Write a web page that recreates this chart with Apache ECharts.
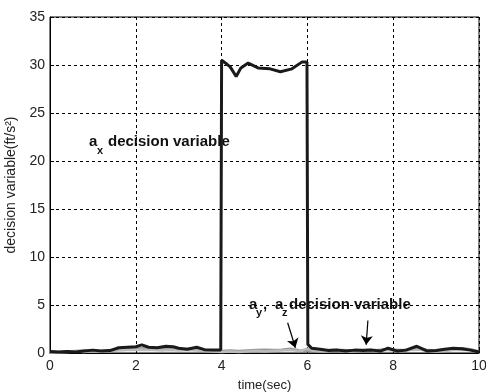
<!DOCTYPE html>
<html><head><meta charset="utf-8">
<script src="https://cdn.jsdelivr.net/npm/echarts@6/dist/echarts.min.js"></script>
<style>html,body{margin:0;padding:0;background:#fff}#c{width:486px;height:392px}</style>
</head><body><div id="c"></div>
<script>
const xTicks = [0, 2, 4, 6, 8, 10];
const yTicks = [0, 5, 10, 15, 20, 25, 30, 35];
const axTime = [0,0.2,0.4,0.6,0.8,1.0,1.2,1.4,1.6,1.8,2.0,2.14,2.3,2.5,2.7,2.87,3.0,3.2,3.42,3.6,3.8,3.98,4.0,4.12,4.2,4.34,4.45,4.62,4.85,5.13,5.37,5.64,5.87,5.99,6.01,6.1,6.3,6.5,6.7,6.9,7.1,7.3,7.5,7.7,7.88,8.1,8.3,8.55,8.8,9.0,9.2,9.4,9.6,9.8,10];
const axVal  = [0.15,0.1,0.15,0.1,0.2,0.3,0.2,0.25,0.55,0.6,0.65,0.85,0.6,0.55,0.7,0.65,0.5,0.4,0.6,0.35,0.3,0.3,30.5,30.1,29.8,28.8,29.7,30.2,29.7,29.6,29.3,29.6,30.3,30.3,0.9,0.5,0.4,0.25,0.3,0.2,0.3,0.25,0.3,0.2,0.5,0.2,0.3,0.7,0.2,0.25,0.4,0.5,0.45,0.3,0.1];
const gTime = [0,0.2,0.4,0.6,0.8,1,1.2,1.4,1.6,1.8,2,2.2,2.4,2.6,2.8,3,3.2,3.4,3.6,3.8,4,4.2,4.4,4.6,4.8,5,5.2,5.4,5.6,5.8,6,6.2,6.4,6.6,6.8,7,7.2,7.4,7.6,7.8,8,8.2,8.4,8.6,8.8,9,9.2,9.4,9.6,9.8,10];
const ayVal = [0.1,0.1,0.15,0.2,0.25,0.15,0.2,0.3,0.35,0.4,0.45,0.5,0.4,0.45,0.4,0.35,0.45,0.35,0.3,0.25,0.2,0.25,0.2,0.25,0.3,0.35,0.3,0.35,0.45,0.3,0.2,0.3,0.25,0.35,0.3,0.25,0.3,0.35,0.3,0.4,0.35,0.3,0.4,0.5,0.3,0.25,0.3,0.45,0.5,0.4,0.15];
const azVal = [0.05,0.05,0.1,0.15,0.1,0.2,0.15,0.2,0.25,0.3,0.3,0.35,0.3,0.25,0.3,0.25,0.3,0.25,0.2,0.15,0.1,0.15,0.1,0.15,0.2,0.15,0.2,0.25,0.3,0.2,0.45,0.2,0.15,0.25,0.2,0.15,0.2,0.25,0.2,0.3,0.25,0.2,0.3,0.35,0.2,0.15,0.2,0.3,0.35,0.3,0.1];
const arrows = [[[5.54,3.15],[5.72,0.55]],[[7.41,3.38],[7.37,0.86]]];

const pair = (t, v) => t.map((x, i) => [x, v[i]]);
const FONT = 'Liberation Sans, Arial, sans-serif';
const chart = echarts.init(document.getElementById('c'), null, {renderer: 'canvas'});
const axisCommon = {
  axisLine: {show: true, lineStyle: {color: '#000', width: 1}},
  axisTick: {show: true, inside: true, length: 4, lineStyle: {color: '#000'}},
  splitLine: {show: true, lineStyle: {color: '#000', type: [3, 3], width: 1}}
};
chart.setOption({
  animation: false,
  backgroundColor: '#fff',
  grid: {left: 50, right: 7, top: 17, bottom: 39, show: true, borderColor: '#000', borderWidth: 1,
    containLabel: false, outerBoundsMode: 'none'},
  xAxis: Object.assign({type: 'value', min: xTicks[0], max: xTicks[xTicks.length-1], interval: 2,
    name: 'time(sec)', nameLocation: 'middle', nameGap: 26,
    nameTextStyle: {fontSize: 13, fontFamily: FONT, color: '#222'}}, axisCommon,
    {axisLabel: {color: '#222', fontSize: 14, fontFamily: FONT, margin: 6}}),
  yAxis: Object.assign({type: 'value', min: yTicks[0], max: yTicks[yTicks.length-1], interval: 5,
    name: 'decision variable(ft/s\u00B2)', nameLocation: 'middle', nameGap: 25,
    nameTextStyle: {fontSize: 14, fontFamily: FONT, color: '#222'}}, axisCommon,
    {axisLabel: {color: '#222', fontSize: 14, fontFamily: FONT, margin: 5}}),
  series: [
    {type: 'line', data: pair(gTime, ayVal), symbol: 'none', lineStyle: {color: '#999', width: 2.5}, z: 3},
    {type: 'line', data: pair(gTime, azVal), symbol: 'none', lineStyle: {color: '#bbb', width: 2.5}, z: 3},
    {type: 'line', data: pair(axTime, axVal), symbol: 'none', lineStyle: {color: '#1a1a1a', width: 3}, z: 4,
      markLine: {silent: true, symbol: ['none', 'arrow'], symbolSize: 9, label: {show: false},
        lineStyle: {color: '#000', width: 1.2, type: 'solid'},
        data: arrows.map(a => [{coord: a[0]}, {coord: a[1]}])}}
  ],
  graphic: [
    {type: 'text', left: 89, top: 134, style: {text: 'a', font: 'bold 15px ' + FONT, fill: '#111'}},
    {type: 'text', left: 97, top: 145, style: {text: 'x', font: 'bold 11px ' + FONT, fill: '#111'}},
    {type: 'text', left: 108, top: 134, style: {text: 'decision variable', font: 'bold 15px ' + FONT, fill: '#111'}},
    {type: 'text', left: 249, top: 297, style: {text: 'a', font: 'bold 15px ' + FONT, fill: '#111'}},
    {type: 'text', left: 256, top: 307, style: {text: 'y', font: 'bold 11px ' + FONT, fill: '#111'}},
    {type: 'text', left: 263, top: 297, style: {text: ',', font: 'bold 15px ' + FONT, fill: '#111'}},
    {type: 'text', left: 275, top: 297, style: {text: 'a', font: 'bold 15px ' + FONT, fill: '#111'}},
    {type: 'text', left: 282, top: 307, style: {text: 'z', font: 'bold 11px ' + FONT, fill: '#111'}},
    {type: 'text', left: 289, top: 297, style: {text: 'decision variable', font: 'bold 15px ' + FONT, fill: '#111'}}
  ]
});
</script></body></html>
